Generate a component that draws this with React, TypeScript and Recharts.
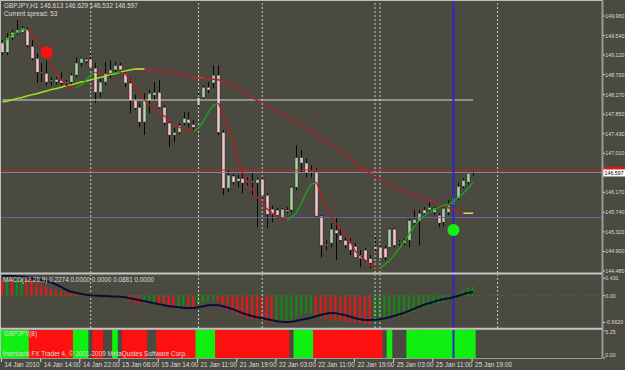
import React from 'react';
import { ComposedChart, Bar, Line, XAxis, YAxis, ReferenceLine, ReferenceDot, Cell } from 'recharts';

// ---------- data ----------
const timeLabels = ['14 Jan 2010', '14 Jan 14:00', '14 Jan 22:00', '15 Jan 06:00', '15 Jan 14:00', '21 Jan 11:00', '21 Jan 19:00', '22 Jan 03:00', '22 Jan 11:00', '22 Jan 19:00', '25 Jan 03:00', '25 Jan 11:00', '25 Jan 19:00'];
const timeTickBars = [0, 8, 16, 24, 32, 40, 48, 56, 64, 72, 80, 88, 96];

const opens = [149.38, 149.18, 149.50, 149.59, 149.61, 149.68, 149.31, 149.05, 148.73, 148.73, 148.58, 148.54, 148.58, 148.52, 148.54, 148.69, 148.95, 149.03, 149.03, 148.84, 148.32, 148.54, 148.73, 148.80, 148.90, 148.73, 148.52, 148.15, 148.00, 147.68, 148.15, 148.26, 148.32, 148.00, 147.66, 147.40, 147.46, 147.66, 147.74, 147.63, 148.04, 148.21, 148.43, 148.52, 148.69, 147.46, 146.26, 146.52, 146.41, 146.47, 146.41, 146.41, 146.37, 146.45, 146.11, 145.81, 145.79, 145.63, 145.79, 145.79, 146.28, 146.92, 146.80, 146.62, 146.62, 145.66, 145.05, 145.08, 145.36, 145.25, 145.14, 145.08, 145.01, 144.82, 144.93, 144.75, 144.95, 144.99, 144.97, 144.99, 145.38, 145.08, 145.08, 145.14, 145.51, 145.55, 145.79, 145.79, 145.74, 145.68, 145.53, 145.74, 145.89, 146.04, 146.30, 146.39, 146.613];
const highs = [149.44, 149.59, 149.66, 149.87, 149.74, 149.72, 149.44, 149.16, 148.95, 149.01, 148.64, 148.64, 148.75, 148.58, 148.73, 149.07, 149.07, 149.05, 149.16, 148.95, 148.62, 148.97, 149.01, 148.97, 148.95, 148.80, 148.62, 148.26, 148.09, 148.30, 148.37, 148.54, 148.58, 148.04, 147.68, 147.55, 147.66, 147.89, 147.89, 147.72, 148.30, 148.47, 148.54, 148.90, 148.90, 147.51, 146.65, 146.56, 146.54, 146.58, 146.49, 146.58, 146.49, 146.49, 146.15, 145.89, 145.83, 145.83, 145.85, 146.30, 147.18, 147.08, 146.90, 146.75, 146.69, 145.68, 145.14, 145.51, 145.63, 145.40, 145.20, 145.18, 145.08, 144.93, 144.97, 144.82, 145.20, 145.03, 145.03, 145.40, 145.40, 145.14, 145.18, 145.61, 145.79, 145.79, 145.85, 145.96, 145.85, 145.72, 145.85, 146.00, 146.11, 146.37, 146.47, 146.62, 146.629];
const lows = [149.12, 149.12, 149.44, 149.55, 149.59, 149.29, 149.01, 148.52, 148.54, 148.47, 148.47, 148.49, 148.47, 148.45, 148.49, 148.64, 148.88, 148.95, 148.80, 148.09, 148.21, 148.47, 148.62, 148.75, 148.75, 148.43, 147.87, 147.94, 147.57, 147.40, 147.87, 148.15, 147.98, 147.61, 147.14, 147.25, 147.42, 147.61, 147.57, 147.51, 148.00, 148.17, 148.30, 148.41, 147.40, 146.11, 146.17, 146.34, 146.28, 146.15, 146.32, 146.11, 145.42, 146.04, 145.40, 145.53, 145.61, 145.59, 145.72, 145.74, 146.22, 146.60, 146.49, 146.49, 145.63, 144.77, 144.93, 144.99, 144.71, 145.10, 144.97, 144.82, 144.75, 144.56, 144.67, 144.54, 144.88, 144.71, 144.71, 144.97, 144.99, 145.03, 145.03, 144.99, 145.44, 145.03, 145.68, 145.72, 145.68, 145.42, 145.44, 145.68, 145.83, 146.00, 146.26, 146.34, 146.532];
const closes = [149.18, 149.50, 149.61, 149.66, 149.70, 149.33, 149.05, 148.75, 148.75, 148.54, 148.57, 148.60, 148.52, 148.54, 148.69, 148.95, 149.05, 148.99, 148.86, 148.32, 148.54, 148.73, 148.80, 148.90, 148.80, 148.52, 148.15, 147.98, 147.68, 148.15, 148.30, 148.32, 148.00, 147.66, 147.40, 147.46, 147.61, 147.76, 147.66, 147.57, 148.21, 148.43, 148.37, 148.69, 147.46, 146.26, 146.54, 146.39, 146.47, 146.37, 146.39, 146.40, 146.45, 146.11, 145.70, 145.70, 145.68, 145.81, 145.76, 146.28, 146.92, 146.80, 146.60, 146.59, 145.66, 145.03, 145.03, 145.38, 145.29, 145.14, 145.03, 144.93, 144.77, 144.75, 144.71, 144.65, 145.01, 144.75, 144.77, 145.38, 145.03, 145.10, 145.14, 145.57, 145.59, 145.72, 145.72, 145.85, 145.83, 145.51, 145.83, 145.89, 146.06, 146.30, 146.43, 146.58, 146.597];

const fastMA = [149.38, 149.46, 149.55, 149.61, 149.66, 149.68, 149.57, 149.42, 149.27, 149.12, 148.92, 148.75, 148.60, 148.47, 148.43, 148.42, 148.47, 148.58, 148.69, 148.75, 148.73, 148.72, 148.72, 148.74, 148.75, 148.71, 148.60, 148.45, 148.30, 148.15, 148.04, 147.96, 147.89, 147.81, 147.72, 147.64, 147.57, 147.53, 147.51, 147.49, 147.55, 147.70, 147.89, 148.04, 148.09, 147.87, 147.55, 147.29, 146.90, 146.58, 146.41, 146.24, 146.06, 145.94, 145.81, 145.72, 145.66, 145.61, 145.57, 145.63, 145.74, 145.94, 146.17, 146.34, 146.39, 146.13, 145.85, 145.66, 145.51, 145.38, 145.27, 145.10, 144.90, 144.80, 144.71, 144.60, 144.56, 144.54, 144.62, 144.71, 144.84, 144.97, 145.12, 145.29, 145.44, 145.57, 145.66, 145.74, 145.79, 145.85, 145.89, 145.91, 145.98, 146.06, 146.15, 146.26, 146.39];
const slowMA = [148.11, 148.13, 148.16, 148.19, 148.21, 148.24, 148.27, 148.29, 148.32, 148.35, 148.38, 148.40, 148.43, 148.46, 148.48, 148.51, 148.54, 148.56, 148.59, 148.62, 148.64, 148.67, 148.70, 148.72, 148.75, 148.78, 148.80, 148.82, 148.82, 148.82, 148.80, 148.79, 148.78, 148.76, 148.75, 148.73, 148.71, 148.69, 148.67, 148.64, 148.62, 148.62, 148.61, 148.60, 148.59, 148.56, 148.52, 148.47, 148.41, 148.33, 148.27, 148.20, 148.15, 148.11, 148.04, 147.98, 147.91, 147.86, 147.81, 147.74, 147.68, 147.61, 147.55, 147.48, 147.42, 147.34, 147.27, 147.19, 147.12, 147.05, 146.97, 146.88, 146.80, 146.72, 146.65, 146.58, 146.51, 146.45, 146.39, 146.32, 146.27, 146.22, 146.18, 146.15, 146.12, 146.08, 146.04, 146.00, 145.96, 145.91, 145.88, 145.84, 145.80, 145.75, 145.72, 145.72, 145.72];

const macdHist = [0.397, 0.422, 0.397, 0.422, 0.434, 0.422, 0.372, 0.322, 0.273, 0.223, 0.174, 0.136, 0.112, 0.087, 0.074, 0.062, 0.050, 0.037, 0.045, 0.030, 0.020, 0.025, 0.015, 0.005, -0.025, -0.074, -0.124, -0.174, -0.223, -0.198, -0.174, -0.161, -0.198, -0.248, -0.298, -0.310, -0.298, -0.273, -0.285, -0.298, -0.223, -0.174, -0.149, -0.124, -0.149, -0.248, -0.347, -0.422, -0.471, -0.521, -0.546, -0.570, -0.595, -0.620, -0.645, -0.670, -0.657, -0.645, -0.620, -0.595, -0.521, -0.471, -0.446, -0.434, -0.471, -0.521, -0.570, -0.595, -0.620, -0.632, -0.645, -0.657, -0.670, -0.682, -0.694, -0.707, -0.670, -0.645, -0.620, -0.570, -0.546, -0.521, -0.496, -0.446, -0.397, -0.347, -0.298, -0.260, -0.223, -0.198, -0.149, -0.099, -0.050, 0.050, 0.124, 0.198, 0.2274];
const macdSignal = [0.496, 0.496, 0.496, 0.484, 0.471, 0.459, 0.434, 0.409, 0.384, 0.360, 0.335, 0.273, 0.211, 0.149, 0.099, 0.074, 0.050, 0.025, 0.012, 0, -0.005, -0.010, -0.015, -0.020, -0.025, -0.037, -0.062, -0.087, -0.112, -0.136, -0.161, -0.186, -0.211, -0.236, -0.260, -0.273, -0.285, -0.298, -0.305, -0.305, -0.285, -0.260, -0.236, -0.231, -0.236, -0.260, -0.298, -0.335, -0.384, -0.434, -0.471, -0.508, -0.533, -0.558, -0.583, -0.608, -0.632, -0.645, -0.652, -0.645, -0.620, -0.595, -0.570, -0.546, -0.508, -0.471, -0.446, -0.429, -0.434, -0.459, -0.484, -0.521, -0.558, -0.583, -0.603, -0.603, -0.595, -0.583, -0.558, -0.533, -0.496, -0.459, -0.422, -0.372, -0.322, -0.273, -0.223, -0.186, -0.149, -0.112, -0.087, -0.062, -0.037, 0, 0.037, 0.074, 0.0881];

// 1 = up (green), -1 = down (red), 0 = no signal
const trendState = [1, 1, 1, 1, 1, 1, -1, -1, -1, -1, -1, -1, -1, -1, -1, 1, 1, 1, 0, -1, -1, 0, 0, 1, 0, -1, -1, -1, -1, -1, 0, 0, -1, -1, -1, -1, -1, -1, -1, -1, 1, 1, 1, 1, -1, -1, -1, -1, -1, -1, -1, -1, -1, -1, -1, -1, -1, -1, -1, 0, 1, 1, 1, 1, -1, -1, -1, -1, -1, -1, -1, -1, -1, -1, -1, -1, -1, -1, 0, 1, 0, 0, 0, 1, 1, 1, 1, 1, 1, 1, 1, 1, 1, 1, 1, 1, 1, 1];

const priceTicks = [149.96, 149.54, 149.12, 148.7, 148.27, 147.85, 147.43, 147.01, 146.17, 145.74, 145.32, 144.9, 144.48];
const bidPrice = 146.597;
const askPrice = 146.65;
const levelPrice = 148.155;
const purplePrice = 145.63;
const gridBars = [18, 40, 53, 76, 77, 101];
const cursorBar = 92;
const sellSignal = { bar: 9, price: 149.18 };
const buySignal = { bar: 92, price: 145.36 };
const macdTicks = [0.431, 0, -0.662];
const trendTicks = [5.25, 0];
const totalBars = 123;

// ---------- styling ----------
const BG = '#4b4a40';
const TXT = '#dcdcdc';
const FONT = '"Liberation Sans", Arial, sans-serif';
const FS = 6.4;
const AFS = 5.3;
const GRID = '#c8c8c8';
const CURSOR = '#2828c8';

// ---------- derived table ----------
const n = opens.length;
const segFast = (k: number) => fastMA[k + 1] > fastMA[k];
const segSlow = (k: number) => {
  const d = slowMA[k + 1] - slowMA[k];
  return d > 0.005 ? 'up' : d < -0.005 ? 'dn' : 'flat';
};
const inSeg = (i: number, test: (k: number) => boolean) =>
  (i > 0 && i - 1 < n - 1 && test(i - 1)) || (i < n - 1 && test(i));

const rows = Array.from({ length: totalBars }, (_, i) => {
  if (i >= n) return { i };
  return {
    i,
    open: opens[i],
    high: highs[i],
    low: lows[i],
    close: closes[i],
    range: [lows[i], highs[i]],
    fastUp: inSeg(i, (k) => segFast(k)) ? fastMA[i] : null,
    fastDn: inSeg(i, (k) => !segFast(k)) ? fastMA[i] : null,
    slowUp: inSeg(i, (k) => segSlow(k) === 'up') ? slowMA[i] : null,
    slowDn: inSeg(i, (k) => segSlow(k) === 'dn') ? slowMA[i] : null,
    slowFlat: inSeg(i, (k) => segSlow(k) === 'flat') ? slowMA[i] : null,
    hist: macdHist[i],
    histUp: i > 0 && macdHist[i] > macdHist[i - 1],
    signal: macdSignal[i],
    trend: trendState[i] !== 0 ? trendTicks[0] : null,
    trendDir: trendState[i],
  };
});

// ---------- shapes ----------
const Candle = (props: any) => {
  const { x, y, width, height, payload } = props;
  if (!payload || payload.open == null) return null;
  const { open, close, high, low } = payload;
  const top = Math.min(y, y + height);
  const h = Math.abs(height);
  const k = h / (high - low);
  const yO = top + (high - open) * k;
  const yC = top + (high - close) * k;
  const cx = Math.round(x + width / 2) + 0.5;
  const bTop = Math.min(yO, yC);
  const bh = Math.max(Math.abs(yC - yO), 1);
  const bull = close >= open;
  return (
    <g>
      <line x1={cx} x2={cx} y1={top} y2={top + h} stroke="#050505" strokeWidth={1} />
      <rect x={cx - 1.5} y={bTop} width={3} height={bh} fill={bull ? '#a6d4a2' : '#f6c4cc'} stroke="#1a1a1a" strokeWidth={0.4} />
    </g>
  );
};

const TrendRect = (props: any) => {
  const { x, y, width, height, payload } = props;
  if (!payload || !payload.trendDir) return null;
  const cx = x + width / 2;
  return (
    <rect
      x={cx - 2.8}
      y={Math.min(y, y + height)}
      width={5.6}
      height={Math.abs(height)}
      fill={payload.trendDir > 0 ? '#10f010' : '#ff1010'}
    />
  );
};

const PriceTick = (props: any) => {
  const { y, payload } = props;
  const v = payload.value;
  if (v === bidPrice) {
    return (
      <g>
        <rect x={603} y={y - 3} width={22} height={7} fill="#ffffff" />
        <text x={604.5} y={y + 2.4} fontSize={AFS} fontFamily={FONT} fill="#000">{v.toFixed(3)}</text>
      </g>
    );
  }
  if (v === askPrice) {
    return <rect x={603} y={y - 3} width={22} height={3} fill="#e01818" />;
  }
  return (
    <g>
      <line x1={603} x2={605} y1={y} y2={y} stroke={TXT} strokeWidth={1} />
      <text x={605.3} y={y + 2} fontSize={AFS} fontFamily={FONT} fill={TXT}>{v.toFixed(3)}</text>
    </g>
  );
};

const MacdTick = (props: any) => {
  const { y, payload } = props;
  const v = payload.value;
  const label = v === 0 ? '0.00' : v > 0 ? v.toFixed(3) : v.toFixed(4);
  return (
    <g>
      <line x1={603} x2={605} y1={y} y2={y} stroke={TXT} strokeWidth={1} />
      <text x={605.3} y={y + 2} fontSize={AFS} fontFamily={FONT} fill={TXT}>{label}</text>
    </g>
  );
};

const TrendTick = (props: any) => {
  const { y, payload } = props;
  const v = payload.value;
  return (
    <g>
      <line x1={603} x2={605} y1={y} y2={y} stroke={TXT} strokeWidth={1} />
      <text x={605.3} y={v === 0 ? y - 1 : y + 4} fontSize={AFS} fontFamily={FONT} fill={TXT}>{v.toFixed(2)}</text>
    </g>
  );
};

const TimeTick = (props: any) => {
  const { x, payload } = props;
  const idx = timeTickBars.indexOf(payload.value);
  if (idx < 0) return null;
  return (
    <g>
      <line x1={x - 1} x2={x - 1} y1={28} y2={32} stroke={TXT} strokeWidth={1} />
      <text x={x + 2} y={37} fontSize={FS} fontFamily={FONT} fill={TXT}>{timeLabels[idx]}</text>
    </g>
  );
};

const gridLines = () =>
  gridBars.map((b) => (
    <ReferenceLine key={'g' + b} x={b} stroke={GRID} strokeDasharray="2 2" strokeWidth={1} />
  ));

export default function App() {
  return (
    <div style={{ position: 'fixed', left: 0, top: 0, width: 625, height: 370, background: BG, overflow: 'hidden' }}>
      {/* main price pane */}
      <div style={{ position: 'absolute', left: 0, top: 0 }}>
        <ComposedChart width={625} height={275} data={rows} margin={{ top: 2, right: 0, bottom: 2, left: 0 }}>
          <XAxis dataKey="i" type="category" hide />
          <YAxis
            orientation="right"
            width={22}
            domain={[144.437, 150.261]}
            allowDataOverflow
            ticks={[...priceTicks, askPrice, bidPrice]}
            interval={0}
            tick={<PriceTick />}
            tickLine={false}
            axisLine={false}
          />
          {gridLines()}
          <ReferenceLine y={purplePrice} stroke="#6a5fc0" strokeWidth={1} />
          <ReferenceLine y={bidPrice} stroke="#7c86a8" strokeWidth={1} />
          <ReferenceLine y={askPrice} stroke="#d01c1c" strokeWidth={1} />
          <ReferenceLine segment={[{ x: 0, y: levelPrice }, { x: 96, y: levelPrice }]} stroke="#d8d8d8" strokeWidth={1} />
          <ReferenceLine x={cursorBar} stroke={CURSOR} strokeWidth={2} />
          <Line dataKey="slowUp" type="linear" stroke="#9be31c" strokeWidth={1.5} dot={false} isAnimationActive={false} connectNulls={false} />
          <Line dataKey="slowFlat" type="linear" stroke="#e6e040" strokeWidth={1.5} dot={false} isAnimationActive={false} connectNulls={false} />
          <Line dataKey="slowDn" type="linear" stroke="#a8262a" strokeWidth={1.5} dot={false} isAnimationActive={false} connectNulls={false} />
          <Bar dataKey="range" barSize={5} shape={<Candle />} isAnimationActive={false} />
          <Line dataKey="fastUp" type="linear" stroke="#18a818" strokeWidth={1.3} dot={false} isAnimationActive={false} connectNulls={false} />
          <Line dataKey="fastDn" type="linear" stroke="#b42020" strokeWidth={1.3} dot={false} isAnimationActive={false} connectNulls={false} />
          <ReferenceDot x={sellSignal.bar} y={sellSignal.price} r={6} fill="#ff1010" stroke="none" />
          <ReferenceDot x={buySignal.bar} y={buySignal.price} r={6} fill="#14f014" stroke="none" />
        </ComposedChart>
      </div>

      {/* MACD pane */}
      <div style={{ position: 'absolute', left: 0, top: 275 }}>
        <ComposedChart width={625} height={53} data={rows} margin={{ top: 0, right: 0, bottom: 0, left: 0 }} barGap={0}>
          <XAxis dataKey="i" type="category" hide />
          <YAxis
            orientation="right"
            width={22}
            domain={[-0.8, 0.513]}
            allowDataOverflow
            ticks={macdTicks}
            interval={0}
            tick={<MacdTick />}
            tickLine={false}
            axisLine={false}
          />
          {gridLines()}
          <ReferenceLine y={0} stroke="#1f8f1f" strokeDasharray="1 2" strokeWidth={1} />
          <ReferenceLine x={cursorBar} stroke={CURSOR} strokeWidth={2} />
          <Bar dataKey="hist" barSize={2} isAnimationActive={false}>
            {rows.map((r: any) => (
              <Cell key={'h' + r.i} fill={r.histUp ? '#158a15' : '#f01414'} />
            ))}
          </Bar>
          <Line dataKey="signal" type="monotone" stroke="#0c0c38" strokeWidth={2} dot={false} isAnimationActive={false} />
        </ComposedChart>
      </div>

      {/* trend pane: grid layer behind */}
      <div style={{ position: 'absolute', left: 0, top: 330 }}>
        <ComposedChart width={625} height={40} data={rows} margin={{ top: 0, right: 0, bottom: 0, left: 0 }}>
          <XAxis dataKey="i" type="category" height={12} hide />
          <YAxis orientation="right" width={22} domain={[0, 5.25]} hide />
          {gridLines()}
        </ComposedChart>
      </div>

      {/* trend pane + time axis */}
      <div style={{ position: 'absolute', left: 0, top: 330 }}>
        <ComposedChart width={625} height={40} data={rows} margin={{ top: 0, right: 0, bottom: 0, left: 0 }}>
          <XAxis
            dataKey="i"
            type="category"
            height={12}
            ticks={timeTickBars}
            interval={0}
            tick={<TimeTick />}
            tickLine={false}
            axisLine={false}
          />
          <YAxis
            orientation="right"
            width={22}
            domain={[0, 5.25]}
            allowDataOverflow
            ticks={trendTicks}
            interval={0}
            tick={<TrendTick />}
            tickLine={false}
            axisLine={false}
          />
          <Bar dataKey="trend" barSize={5} shape={<TrendRect />} isAnimationActive={false} />
          <ReferenceLine x={cursorBar} stroke={CURSOR} strokeWidth={2} />
        </ComposedChart>
      </div>

      {/* frame and captions */}
      <svg width={625} height={370} style={{ position: 'absolute', left: 0, top: 0, pointerEvents: 'none' }}>
        <line x1={0.5} x2={0.5} y1={0} y2={358} stroke="#bdbdbd" strokeWidth={1} />
        <line x1={0} x2={602} y1={0.5} y2={0.5} stroke="#bdbdbd" strokeWidth={1} />
        <line x1={602.5} x2={602.5} y1={0} y2={358} stroke="#9a9a9a" strokeWidth={2} />
        <line x1={0} x2={602} y1={273.5} y2={273.5} stroke="#c4c4c4" strokeWidth={2} />
        <line x1={0} x2={602} y1={328.8} y2={328.8} stroke="#c4c4c4" strokeWidth={2} />
        <line x1={0} x2={602} y1={358.5} y2={358.5} stroke="#9a9a9a" strokeWidth={1} />
        <text x={4} y={8} fontSize={FS} fontFamily={FONT} fill={TXT}>GBPJPY,H1  146.613 146.629 146.532 146.597</text>
        <text x={4} y={15.5} fontSize={FS} fontFamily={FONT} fill={TXT}>Current spread: 53</text>
        <text x={3} y={282} fontSize={FS} fontFamily={FONT} fill={TXT}>MACD(12,26,9) 0.2274 0.0000 0.0000 0.0881 0.0000</text>
        <text x={4} y={336} fontSize={FS} fontFamily={FONT} fill={TXT}>GBPJPY(8)</text>
        <text x={3} y={356} fontSize={FS} fontFamily={FONT} fill={TXT}>Interbank FX Trader 4, © 2001-2009 MetaQuotes Software Corp.</text>
      </svg>
    </div>
  );
}
